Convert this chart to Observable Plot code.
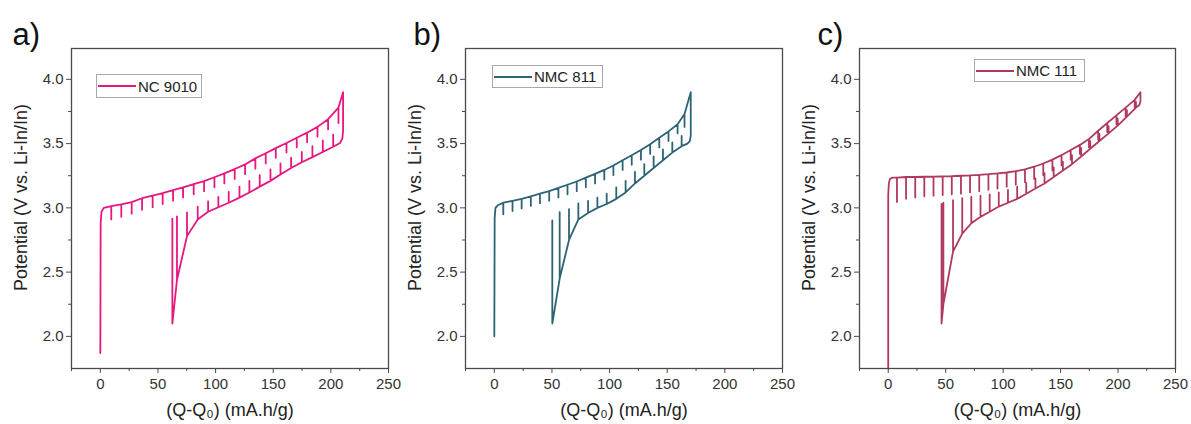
<!DOCTYPE html>
<html><head><meta charset="utf-8">
<script src="https://cdn.jsdelivr.net/npm/d3@7"></script>
<script src="https://cdn.jsdelivr.net/npm/@observablehq/plot@0.6"></script>
<style>
body{margin:0;background:#fff;}
#wrap{position:relative;width:1191px;height:424px;overflow:hidden;font-family:"Liberation Sans",Arial,sans-serif;background:#fff;}
.panel{position:absolute;top:0;}
.legend{position:absolute;border:1px solid #a8a8a8;background:#fff;font-size:15px;color:#222;display:flex;align-items:center;box-sizing:border-box;white-space:nowrap;}
.legend svg{margin:0 2px 0 1px;}
</style></head><body><div id="wrap"></div>
<script>
// ---------- axis ticks / labels ----------
const xMajor = [0, 50, 100, 150, 200, 250];
const xMinor = [-25, 25, 75, 125, 175, 225];
const yMajor = [2.0, 2.5, 3.0, 3.5, 4.0];
const yMinor = [2.25, 2.75, 3.25, 3.75];
const xLabel = "(Q-Q₀) (mA.h/g)";
const yLabel = "Potential (V vs. Li-In/In)";
const panelLetters = ["a)", "b)", "c)"];
const seriesNames = ["NC 9010", "NMC 811", "NMC 111"];

// ---------- panel a : NC 9010 ----------
const aStartX = [0, 0.3, 1.0, 3.0];
const aStartV = [1.87, 2.88, 2.97, 3.0];
const aChgX = [9.5, 18.2, 27.2, 36.2, 45.4, 54.1, 63.1, 71.8, 81.0, 90.0, 99.0, 107.6, 116.6, 125.6, 134.5, 143.5, 152.2, 161.5, 170.4, 179.4, 188.4, 197.6, 206.6];
const aChgTop = [3.014, 3.027, 3.045, 3.075, 3.095, 3.115, 3.138, 3.160, 3.185, 3.208, 3.238, 3.268, 3.302, 3.338, 3.385, 3.425, 3.465, 3.505, 3.545, 3.585, 3.63, 3.69, 3.78];
const aChgRest = [2.910, 2.930, 2.955, 2.985, 3.005, 3.030, 3.055, 3.080, 3.105, 3.130, 3.160, 3.190, 3.225, 3.262, 3.305, 3.345, 3.39, 3.43, 3.47, 3.51, 3.555, 3.61, 3.66];
const aTurnX = [210.6, 210.6, 210.0, 208.0];
const aTurnV = [3.90, 3.60, 3.54, 3.505];
const aDisX = [202.0, 193.0, 184.0, 174.8, 165.5, 156.3, 147.6, 138.3, 129.3, 120.7, 111.4, 102.4, 93.5, 84.5, 75.2, 66.5, 62.5];
const aDisBase = [3.475, 3.435, 3.395, 3.355, 3.31, 3.26, 3.21, 3.165, 3.12, 3.08, 3.04, 3.005, 2.97, 2.91, 2.78, 2.44, 2.10];
const aDisRest = [3.57, 3.525, 3.48, 3.435, 3.39, 3.345, 3.30, 3.255, 3.21, 3.165, 3.125, 3.085, 3.05, 3.01, 2.965, 2.934, 2.916];

// ---------- panel b : NMC 811 ----------
const bStartX = [0, 0.3, 1.0, 3.0];
const bStartV = [2.0, 2.92, 3.0, 3.02];
const bChgX = [7.8, 15.8, 23.7, 31.7, 39.6, 47.6, 55.6, 63.5, 71.5, 79.4, 87.4, 95.4, 103.3, 111.3, 119.2, 127.2, 135.2, 143.1, 151.1, 159.0, 165.0];
const bChgTop = [3.04, 3.055, 3.07, 3.09, 3.11, 3.13, 3.155, 3.18, 3.205, 3.235, 3.265, 3.295, 3.33, 3.37, 3.41, 3.45, 3.495, 3.545, 3.595, 3.65, 3.73];
const bChgRest = [2.95, 2.975, 2.995, 3.015, 3.035, 3.055, 3.08, 3.105, 3.13, 3.16, 3.19, 3.22, 3.255, 3.295, 3.335, 3.375, 3.42, 3.47, 3.52, 3.58, 3.63];
const bTurnX = [170.4, 170.4, 169.6, 167.5];
const bTurnV = [3.90, 3.56, 3.52, 3.50];
const bDisX = [162.5, 154.4, 146.3, 138.2, 130.1, 122.0, 113.9, 105.8, 97.5, 89.4, 81.3, 72.9, 64.8, 56.7, 50.3];
const bDisBase = [3.48, 3.43, 3.37, 3.31, 3.25, 3.19, 3.12, 3.07, 3.03, 3.0, 2.96, 2.91, 2.75, 2.45, 2.10];
const bDisRest = [3.56, 3.51, 3.455, 3.40, 3.34, 3.28, 3.21, 3.16, 3.11, 3.08, 3.055, 3.035, 2.99, 2.967, 2.903];

// ---------- panel c : NMC 111 ----------
const cStartX = [0, 0, 0.5, 1.5, 3.5];
const cStartV = [1.5, 3.1, 3.19, 3.225, 3.235];
const cChgX = [7.6, 15.5, 23.5, 31.4, 39.4, 47.4, 55.3, 63.3, 71.2, 79.2, 87.2, 95.1, 103.1, 111.0, 119.0, 127.0, 134.9, 142.9, 150.8, 158.8, 166.8, 174.7, 182.7, 190.6, 198.6, 206.6, 214.5];
const cChgTop = [3.235, 3.24, 3.24, 3.242, 3.243, 3.245, 3.247, 3.25, 3.253, 3.257, 3.262, 3.268, 3.275, 3.285, 3.30, 3.32, 3.345, 3.375, 3.41, 3.45, 3.49, 3.535, 3.60, 3.66, 3.72, 3.78, 3.84];
const cChgRest = [3.045, 3.07, 3.08, 3.09, 3.095, 3.10, 3.105, 3.11, 3.12, 3.13, 3.14, 3.15, 3.165, 3.18, 3.20, 3.225, 3.255, 3.29, 3.33, 3.375, 3.42, 3.47, 3.53, 3.59, 3.65, 3.71, 3.77];
const cTurnX = [219.5, 219.5, 218.5];
const cTurnV = [3.90, 3.83, 3.80];
const cDisX = [215.6, 207.7, 199.7, 191.8, 183.8, 175.8, 167.9, 159.9, 152.0, 144.0, 136.0, 128.1, 120.1, 112.2, 104.2, 96.2, 88.3, 80.3, 72.3, 64.4, 56.4, 48.0, 46.4];
const cDisBase = [3.78, 3.71, 3.64, 3.58, 3.52, 3.46, 3.40, 3.34, 3.29, 3.24, 3.19, 3.15, 3.11, 3.07, 3.04, 3.01, 2.97, 2.93, 2.88, 2.80, 2.66, 2.25, 2.10];
const cDisRest = [3.825, 3.76, 3.695, 3.635, 3.575, 3.52, 3.465, 3.41, 3.36, 3.315, 3.27, 3.23, 3.195, 3.165, 3.14, 3.12, 3.105, 3.095, 3.085, 3.075, 3.06, 3.04, 3.03];

const colors = ["#e8177f", "#2c6474", "#b0395f"];

function buildPath(sX, sV, cX, cTop, cRest, tX, tV, dX, dBase, dRest) {
  const pts = [];
  sX.forEach((x, i) => pts.push({x, y: sV[i]}));
  cX.forEach((x, i) => { pts.push({x, y: cTop[i]}); pts.push({x, y: cRest[i]}); pts.push({x, y: cTop[i]}); });
  tX.forEach((x, i) => pts.push({x, y: tV[i]}));
  dX.forEach((x, i) => {
    pts.push({x, y: dBase[i]}); pts.push({x, y: dRest[i]});
    if (i < dX.length - 1) pts.push({x, y: dBase[i]});
  });
  return pts;
}

const paths = [
  buildPath(aStartX, aStartV, aChgX, aChgTop, aChgRest, aTurnX, aTurnV, aDisX, aDisBase, aDisRest),
  buildPath(bStartX, bStartV, bChgX, bChgTop, bChgRest, bTurnX, bTurnV, bDisX, bDisBase, bDisRest),
  buildPath(cStartX, cStartV, cChgX, cChgTop, cChgRest, cTurnX, cTurnV, cDisX, cDisBase, cDisRest)
];

const layout = [
  {left: 0, width: 395, ml: 71, mr: 7, letterDx: -59, legend: {left: 96, top: 74, w: 106, h: 24}},
  {left: 395, width: 395, ml: 70, mr: 8, letterDx: -52, legend: {left: 492, top: 65, w: 111, h: 23}},
  {left: 790, width: 401, ml: 69, mr: 16, letterDx: -42, legend: {left: 974, top: 59, w: 111, h: 23}}
];

const wrap = document.getElementById("wrap");
const font = "Liberation Sans, Arial, Helvetica, sans-serif";

paths.forEach((pts, k) => {
  const L = layout[k];
  const chart = Plot.plot({
    width: L.width, height: 424,
    marginLeft: L.ml, marginRight: L.mr, marginTop: 48, marginBottom: 56,
    x: {domain: [-25, 250]},
    y: {domain: [1.75, 4.24]},
    style: {fontFamily: font, fontSize: "15px", color: "#333", background: "transparent", overflow: "visible"},
    marks: [
      Plot.line(pts, {x: "x", y: "y", stroke: colors[k], strokeWidth: 1.8, clip: true, strokeLinejoin: "round"}),
      Plot.frame({stroke: "#4a4a4a", strokeWidth: 1.3}),
      Plot.axisX({ticks: xMajor, tickSize: 5, tickPadding: 5, label: null, fontSize: 15, stroke: "#4a4a4a"}),
      Plot.axisX({ticks: xMinor, tickSize: 3, text: null, label: null, stroke: "#4a4a4a"}),
      Plot.axisY({ticks: yMajor, tickSize: 5, tickPadding: 3, label: null, fontSize: 15, tickFormat: d => d.toFixed(1), stroke: "#4a4a4a"}),
      Plot.axisY({ticks: yMinor, tickSize: 3, text: null, label: null, stroke: "#4a4a4a"}),
      Plot.text([xLabel], {text: d => d, frameAnchor: "bottom", dy: 47, fontSize: 18, fill: "#222"}),
      Plot.text([yLabel], {text: d => d, frameAnchor: "left", textAnchor: "middle", rotate: -90, dx: -50, dy: -11, fontSize: 18, fill: "#222"}),
      Plot.text([panelLetters[k]], {text: d => d, frameAnchor: "top-left", textAnchor: "start", lineAnchor: "bottom", dx: L.letterDx, dy: -4, fontSize: 31, fill: "#111"})
    ]
  });
  const holder = document.createElement("div");
  holder.className = "panel";
  holder.style.left = L.left + "px";
  holder.appendChild(chart);
  wrap.appendChild(holder);

  const lg = document.createElement("div");
  lg.className = "legend";
  lg.style.left = L.legend.left + "px";
  lg.style.top = L.legend.top + "px";
  lg.style.width = L.legend.w + "px";
  lg.style.height = L.legend.h + "px";
  lg.innerHTML = `<svg width="38" height="10"><line x1="0" y1="5" x2="38" y2="5" stroke="${colors[k]}" stroke-width="2"/></svg><span>${seriesNames[k]}</span>`;
  wrap.appendChild(lg);
});
</script></body></html>
